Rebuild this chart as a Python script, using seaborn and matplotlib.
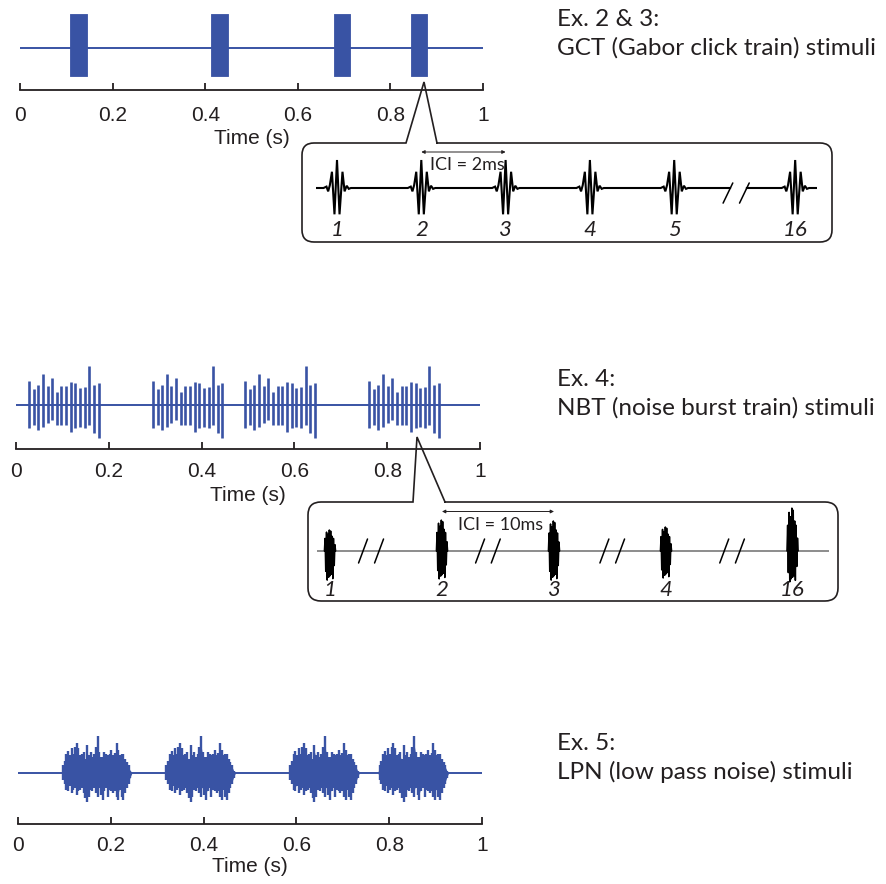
import matplotlib
matplotlib.use("Agg")
import matplotlib.pyplot as plt
import seaborn as sns
from matplotlib.path import Path
from matplotlib.patches import PathPatch

# ------------------------------------------------------------------ data
time_ticks = [0, 0.2, 0.4, 0.6, 0.8, 1]
time_tick_labels = ["0", "0.2", "0.4", "0.6", "0.8", "1"]

# Ex. 2 & 3 : GCT - onset / offset (s) of each 16-click train, envelope extent
gct_on = [0.108, 0.413, 0.678, 0.844]
gct_off = [0.145, 0.449, 0.713, 0.879]
gct_top = 1.09
gct_bot = -0.91

# Ex. 4 : NBT - train onsets (s), burst offsets inside a train (s), burst extents
nbt_train_on = [0.028, 0.295, 0.494, 0.761]
nbt_burst_offsets = [0.00, 0.01, 0.02, 0.03, 0.04, 0.05, 0.06, 0.07,
                     0.08, 0.09, 0.10, 0.11, 0.12, 0.13, 0.14, 0.15]
nbt_top = [0.62, 0.40, 0.51, 0.79, 0.49, 0.68, 0.34, 0.49,
           0.49, 0.60, 0.57, 0.43, 0.47, 1.00, 0.51, 0.56]
nbt_bot = [-0.58, -0.51, -0.64, -0.56, -0.45, -0.38, -0.51, -0.51,
           -0.51, -0.68, -0.60, -0.56, -0.60, -0.51, -0.71, -0.85]

# Ex. 5 : LPN - burst onsets (s), duration (s), upper / lower envelope samples
lpn_on = [0.093, 0.316, 0.583, 0.7755]
lpn_dur = 0.153
lpn_upper = [0.00, 0.19, 0.32, 0.51, 0.57, 0.46, 0.65, 0.51, 0.69, 0.79, 0.65,
             0.46, 0.51, 0.56, 0.37, 0.74, 0.46, 0.56, 0.42, 0.51, 0.69, 1.00,
             0.56, 0.42, 0.42, 0.56, 0.51, 0.46, 0.51, 0.60, 0.46, 0.54, 0.79,
             0.60, 0.46, 0.51, 0.51, 0.37, 0.28, 0.19, 0.05, 0.00]
lpn_lower = [0.00, -0.19, -0.32, -0.46, -0.51, -0.37, -0.56, -0.46, -0.42, -0.60,
             -0.51, -0.46, -0.42, -0.56, -0.69, -0.79, -0.65, -0.46, -0.51, -0.42,
             -0.56, -0.65, -0.42, -0.60, -0.74, -0.51, -0.42, -0.65, -0.46, -0.51,
             -0.56, -0.51, -0.65, -0.74, -0.46, -0.65, -0.74, -0.56, -0.42, -0.32,
             -0.14, 0.00]

# GCT inset: click positions (ms on compressed axis), labels, one Gabor click
gct_inset_pos = [0, 2, 4, 6, 8, 10.87]
gct_inset_labels = ["1", "2", "3", "4", "5", "16"]
gabor_dt = [-0.32, -0.25, -0.21, -0.17, -0.12, -0.06, 0.0,
            0.06, 0.13, 0.18, 0.23, 0.28, 0.33]
gabor_amp = [0.0, 0.05, -0.12, 0.10, 0.58, -0.94, 1.0,
             -0.94, 0.58, -0.12, 0.08, -0.03, 0.0]
gct_break = [9.33, 9.72]

# NBT inset: burst positions (ms on compressed axis), labels, burst shape
nbt_inset_pos = [0, 10, 20, 30, 41.3]
nbt_inset_labels = ["1", "2", "3", "4", "16"]
nbt_burst_dx = [-0.5, -0.44, -0.38, -0.31, -0.25, -0.19, -0.12, -0.06, 0.0,
                0.06, 0.12, 0.19, 0.25, 0.31, 0.38, 0.44, 0.5]
nbt_burst_shape = [0.0, 0.6, -0.7, 0.9, -1.0, 0.8, -0.9, 1.0, -0.85,
                   0.95, -0.8, 0.7, -0.95, 0.6, -0.5, 0.3, 0.0]
nbt_inset_up = [0.70, 1.03, 1.00, 0.80, 1.43]
nbt_inset_down = [0.97, 0.93, 0.97, 0.90, 1.03]
nbt_breaks = [2.95, 4.38, 13.4, 14.8, 24.5, 25.9, 35.2, 36.6]

titles = [("Ex. 2 & 3:", "GCT (Gabor click train) stimuli"),
          ("Ex. 4:", "NBT (noise burst train) stimuli"),
          ("Ex. 5:", "LPN (low pass noise) stimuli")]

# ------------------------------------------------------------------ style
sns.set_theme(style="ticks")
plt.rcParams["font.family"] = ["Liberation Sans", "DejaVu Sans"]
W, H = 887, 884
BLUE = "#3953a4"
INK = "#231f20"
GRAY = "#8c8c8c"

fig = plt.figure(figsize=(W / 100, H / 100), dpi=100)
fig.patch.set_facecolor("white")


def rect(x0, y0, x1, y1):
    return [x0 / W, 1 - y1 / H, (x1 - x0) / W, (y1 - y0) / H]


over = fig.add_axes([0, 0, 1, 1])
over.set_xlim(0, W)
over.set_ylim(H, 0)
over.axis("off")


def callout(l, t, r, b, rad, bl, br, tip):
    verts = [(br, t), (r - rad, t), (r, t), (r, t + rad), (r, b - rad), (r, b),
             (r - rad, b), (l + rad, b), (l, b), (l, b - rad), (l, t + rad),
             (l, t), (l + rad, t), (bl, t), tip, (br, t)]
    codes = [Path.MOVETO, Path.LINETO, Path.CURVE3, Path.CURVE3, Path.LINETO,
             Path.CURVE3, Path.CURVE3, Path.LINETO, Path.CURVE3, Path.CURVE3,
             Path.LINETO, Path.CURVE3, Path.CURVE3, Path.LINETO, Path.LINETO,
             Path.LINETO]
    over.add_patch(PathPatch(Path(verts, codes), fill=False, ec=INK, lw=1.2,
                             joinstyle="miter", capstyle="round"))


callout(302, 143, 832, 242, 12, 406, 437, (424, 82))
callout(308, 502, 838, 601, 13, 413, 445, (417, 437))


def panel(x0, x1, top, base, spine, unit, pad, labelpad):
    ax = fig.add_axes(rect(x0, top, x1, spine))
    ax.patch.set_alpha(0)
    ax.set_xlim(0, 1)
    ax.set_ylim(-(spine - base) / unit, (base - top) / unit)
    sns.lineplot(x=[0, 1], y=[0, 0], ax=ax, color=BLUE, lw=1.4)
    ax.set_xticks(time_ticks, time_tick_labels)
    ax.set_yticks([])
    sns.despine(ax=ax, left=True)
    ax.spines["bottom"].set_color(INK)
    ax.spines["bottom"].set_linewidth(1.3)
    ax.tick_params(axis="x", direction="in", length=5, width=1.3,
                   colors=INK, labelsize=15, pad=pad, bottom=True)
    ax.set_xlabel("Time (s)", fontsize=15, color=INK, labelpad=labelpad)
    ax.set_ylabel("")
    return ax


# ---- panel 1: GCT
ax1 = panel(20, 483, 10, 47.7, 90, 31, 11.8, 2.4)
for on, off in zip(gct_on, gct_off):
    ax1.fill_between([on, off], gct_bot, gct_top, color=BLUE, lw=0.6,
                     edgecolor=BLUE)

# ---- panel 2: NBT
ax2 = panel(16, 480, 360, 405, 449, 39, 9.7, 3.0)
for t0 in nbt_train_on:
    xs = [t0 + d for d in nbt_burst_offsets]
    ax2.vlines(xs, nbt_bot, nbt_top, color=BLUE, lw=1.9)

# ---- panel 3: LPN
ax3 = panel(18, 482, 730, 772.5, 824, 37, 8.9, 1.5)
n = len(lpn_upper)
for t0 in lpn_on:
    xs = [t0 + lpn_dur * i / (n - 1) for i in range(n)]
    ax3.vlines(xs, lpn_lower, lpn_upper, color=BLUE, lw=1.7)
    ax3.fill_between(xs, [v * 0.75 for v in lpn_lower],
                     [v * 0.75 for v in lpn_upper], color=BLUE, lw=0)

# ---- GCT inset
px_per = 42.15
g0 = 337
axg = fig.add_axes(rect(316, 150, 817, 215))
axg.axis("off")
axg.set_xlim((316 - g0) / px_per, (817 - g0) / px_per)
axg.set_ylim(-(215 - 188) / 28, (188 - 150) / 28)
xs, ys = [(316 - g0) / px_per], [0.0]
for p in gct_inset_pos:
    if p > gct_break[0] and xs[-1] < gct_break[0]:
        xs += [gct_break[0], float("nan"), gct_break[1]]
        ys += [0.0, float("nan"), 0.0]
    xs += [p + d for d in gabor_dt]
    ys += gabor_amp
xs.append((817 - g0) / px_per)
ys.append(0.0)
axg.plot(xs, ys, color="black", lw=1.5, solid_joinstyle="miter")
for bx in gct_break:
    axg.plot([bx - 0.17, bx + 0.06], [-0.54, 0.18], color="black", lw=1.1)
for p, lab in zip(gct_inset_pos, gct_inset_labels):
    axg.text(p, -(230 - 188) / 28, lab, ha="center", va="center",
             family="Lato", style="italic", size=16, color=INK, clip_on=False)
yarr = (188 - 152) / 28
axg.annotate("", xy=(gct_inset_pos[2], yarr), xytext=(gct_inset_pos[1], yarr),
             arrowprops=dict(arrowstyle="<|-|>", lw=0.7, color=INK,
                             shrinkA=0, shrinkB=0, mutation_scale=5),
             annotation_clip=False)
axg.text(2.2, (188 - 165) / 28, "ICI = 2ms", ha="left", va="center",
         family="Lato", size=13, color=INK, clip_on=False)

# ---- NBT inset
n0 = 330
npx = 11.2
axn = fig.add_axes(rect(317, 505, 829, 598))
axn.axis("off")
axn.set_xlim((317 - n0) / npx, (829 - n0) / npx)
axn.set_ylim(-(598 - 551) / 30, (551 - 505) / 30)
axn.plot(list(axn.get_xlim()), [0, 0], color=GRAY, lw=1.4)
for p, up, dn in zip(nbt_inset_pos, nbt_inset_up, nbt_inset_down):
    bx = [p + d for d in nbt_burst_dx]
    by = [v * (up if v > 0 else dn) for v in nbt_burst_shape]
    axn.plot(bx, by, color="black", lw=1.1)
for bx in nbt_breaks:
    axn.plot([bx - 0.4, bx + 0.4], [-0.4, 0.4], color="black", lw=1.1)
for p, lab in zip(nbt_inset_pos, nbt_inset_labels):
    axn.text(p, -(590 - 551) / 30, lab, ha="center", va="center",
             family="Lato", style="italic", size=16, color=INK, clip_on=False)
yarr = (551 - 511.5) / 30
axn.annotate("", xy=(nbt_inset_pos[2], yarr), xytext=(nbt_inset_pos[1], yarr),
             arrowprops=dict(arrowstyle="<|-|>", lw=0.7, color=INK,
                             shrinkA=0, shrinkB=0, mutation_scale=5),
             annotation_clip=False)
axn.text(11.4, (551 - 525) / 30, "ICI = 10ms", ha="left", va="center",
         family="Lato", size=13, color=INK, clip_on=False)

# ---- right-hand titles
for (l1, l2), (y1, y2) in zip(titles, [(20, 48), (380, 408), (743, 772)]):
    fig.text(557 / W, 1 - y1 / H, l1, ha="left", va="center",
             family="Lato", size=17.5, color=INK)
    fig.text(557 / W, 1 - y2 / H, l2, ha="left", va="center",
             family="Lato", size=17.5, color=INK)

fig.savefig("out.png", dpi=100, facecolor="white")
